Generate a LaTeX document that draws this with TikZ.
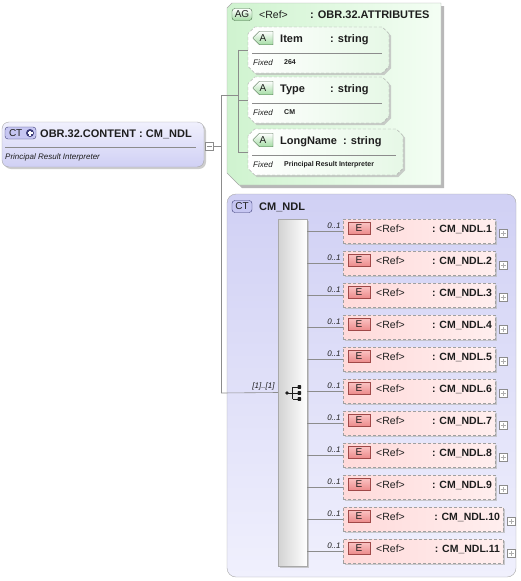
\documentclass[tikz,border=0pt]{standalone}
\usepackage{fontspec}
\setmainfont{Liberation Sans}
\usetikzlibrary{shapes.misc,shadows}

\begin{document}
\begin{tikzpicture}[x=1pt,y=-1pt,
  conn/.style={draw=linegray,line width=0.6pt},
  divider/.style={draw=linegray,line width=0.5pt},
  shad/.style={drop shadow={shadow xshift=2pt,shadow yshift=-2pt,fill=shadowgray,opacity=0.7}},
  ctbox/.style={draw=boxgray,rounded corners=7pt,top color=ctlight,bottom color=ctfill,shad},
  attrbox/.style={chamfered rectangle,chamfered rectangle xsep=4pt,draw=dashgray,dash pattern=on 3pt off 2pt,left color=white,right color=attrfill,shad},
  elem/.style={rectangle,draw=dashgray,dash pattern=on 3pt off 2pt,left color=epink,right color=epink!45!white,minimum height=24,shad},
  seqbox/.style={rectangle,draw=boxgray,left color=seqdark,right color=white,shad},
  expbox/.style={rectangle,draw=linegray,fill=white,minimum size=8,inner sep=0pt,line width=0.4pt},
  minus/.style={expbox,path picture={\draw[linegray,line width=0.5pt] ([xshift=-2.5pt]path picture bounding box.center) -- ([xshift=2.5pt]path picture bounding box.center);}},
  plus/.style={expbox,path picture={\draw[linegray!70,line width=0.5pt] ([xshift=-2.5pt]path picture bounding box.center) -- ([xshift=2.5pt]path picture bounding box.center) ([yshift=-2.5pt]path picture bounding box.center) -- ([yshift=2.5pt]path picture bounding box.center);}},
  tag/.style={inner sep=0pt,minimum height=12,font=\fontsize{10}{11}\selectfont,text=tagtext},
  cttag/.style={tag,rectangle,rounded corners=3pt,draw=ctdark,fill=cttagfill,minimum width=20},
  agtag/.style={tag,rectangle,rounded corners=3pt,draw=agdark,top color=white,bottom color=agtagfill,minimum width=20},
  atag/.style={tag,chamfered rectangle,chamfered rectangle corners={north west,south west},chamfered rectangle xsep=3pt,draw=agdark,top color=white,bottom color=agtagfill,minimum width=20},
  etag/.style={tag,rectangle,draw=edark,top color=etagtop,bottom color=etagfill,minimum width=22},
  namefont/.style={font=\fontsize{11}{13}\selectfont\bfseries,text=tagtext,inner sep=0pt},
  reffont/.style={font=\fontsize{10.5}{12}\selectfont,text=tagtext,inner sep=0pt},
  smallit/.style={font=\fontsize{8}{9}\selectfont\itshape,text=tagtext,inner sep=0pt},
  valfont/.style={font=\fontsize{7}{8}\selectfont\bfseries,text=tagtext,inner sep=0pt}]
\definecolor{linegray}{HTML}{8C8C8C}
\definecolor{boxgray}{HTML}{A8A8A8}
\definecolor{dashgray}{HTML}{A0A0A0}
\definecolor{shadowgray}{HTML}{B8B8B8}
\definecolor{tagtext}{HTML}{1E1E1E}
\definecolor{ctfill}{HTML}{D0D0F4}
\definecolor{ctlight}{HTML}{F0F0FD}
\definecolor{ctdark}{HTML}{3C3C78}
\definecolor{cttagfill}{HTML}{C6C6F2}
\definecolor{agleft}{HTML}{CFF3CF}
\definecolor{agright}{HTML}{F4FEF4}
\definecolor{agdark}{HTML}{4E6E4E}
\definecolor{agtagfill}{HTML}{A4DCA4}
\definecolor{attrfill}{HTML}{E6F8E6}
\definecolor{epink}{HTML}{FFDADA}
\definecolor{edark}{HTML}{A04848}
\definecolor{etagtop}{HTML}{FBC4C4}
\definecolor{etagfill}{HTML}{EC8C8C}
\definecolor{seqdark}{HTML}{D2D2D2}
\useasboundingbox (0,0) rectangle (521,581);

% left complex type
\node[ctbox,minimum width=202,minimum height=45] (content) at (103,144.5) {};
\node[cttag,minimum width=31,text width=27,align=left] (ctbadge) at (20.5,133) {\hspace{2pt}CT};
\node[circle,fill=ctdark,inner sep=0pt,minimum size=8,
  path picture={\draw[white,line width=1.2pt] ([xshift=-2.5pt]path picture bounding box.center) -- ([xshift=2.5pt]path picture bounding box.center) ([yshift=-2.5pt]path picture bounding box.center) -- ([yshift=2.5pt]path picture bounding box.center);}] (ctplus) at (30,133) {};
\node[namefont,anchor=base west] (ctname) at (40,137) {OBR.32.CONTENT : CM\_NDL};
\draw[divider] (5,147) -- (196,147);
\node[smallit,anchor=base west] (ctdoc) at (5,159) {Principal Result Interpreter};
\node[minus] (cminus) at (209,146) {};

% trunk connectors
\coordinate (trunk) at (221,146);
\coordinate (agjoin) at (221,95);
\coordinate (seqjoin) at (221,393);
\coordinate (abustop) at (238,49.5);
\coordinate (abusbot) at (238,152);
\draw[conn] (cminus.east) -- (trunk);
\draw[conn] (agjoin) -- (seqjoin);

% attribute group
\fill[shadowgray] (230,11) -- (235,6) -- (444,6) -- (444,188) -- (242,188) -- (230,176) -- cycle;
\shade[left color=agleft,right color=agright,draw=boxgray] (227,8) -- (232,3) -- (441,3) -- (441,185) -- (239,185) -- (227,173) -- cycle;
\node[agtag] (agbadge) at (242,14.5) {AG};
\node[reffont,anchor=base west] (agref) at (259,18.5) {<Ref>};
\node[namefont,anchor=base west] (agtype) at (310,18.5) {: OBR.32.ATTRIBUTES};
\draw[conn] (agjoin) -- (agjoin -| abustop);
\draw[conn] (abustop) -- (abusbot);

\foreach \a/\nm/\val/\top/\w/\sx in {1/Item/264/27/141/330,2/Type/CM/77/141/330,3/LongName/Principal Result Interpreter/129/155/343}
{
  \node[attrbox,minimum width=\w,minimum height=46] (attr\a) at ({248+\w/2},{\top+23}) {};
  \draw[conn] (attr\a.west -| abustop) -- (attr\a.west);
  \node[atag] (abadge\a) at (263,{\top+11}) {A};
  \node[namefont,anchor=base west] (aname\a) at (280,{\top+15}) {\nm};
  \node[namefont,anchor=base west] (atype\a) at (\sx,{\top+15}) {: string};
  \draw[divider] (252,{\top+26}) -- ({248+\w-7},{\top+26});
  \node[smallit,anchor=base west] (afix\a) at (253,{\top+38}) {Fixed};
  \node[valfont,anchor=base west] (aval\a) at (284,{\top+37}) {\val};
}

% complex type content
\shade[top color=ctfill,bottom color=ctlight,draw=boxgray,rounded corners=9pt] (227,194) rectangle (516,577);
\node[cttag] (cmbadge) at (242,206.5) {CT};
\node[namefont,anchor=base west] (cmname) at (259,210) {CM\_NDL};

% sequence
\node[seqbox,minimum width=29,minimum height=347,inner sep=0pt] (seq) at (292.5,392.5) {};
\draw[conn] (seqjoin) -- (seq.west);
\node[smallit,anchor=south east] (seqcard) at ([xshift=-3pt,yshift=2pt]seq.west) {[1]..[1]};
\draw[tagtext,line width=0.7pt] (287,393) -- (292.5,393) (292.5,387) -- (292.5,399)
  (292.5,387) -- (299,387) (292.5,393) -- (299,393) (292.5,399) -- (299,399);
\fill[tagtext] (287,393) circle (1.8);
\foreach \dy in {387,393,399}
  \fill[tagtext,rounded corners=0.6pt] (297.5,\dy-1.8) rectangle (301.2,\dy+1.8);

% elements
\foreach \i/\w in {1/152,2/152,3/152,4/152,5/152,6/152,7/152,8/152,9/152,10/160,11/160}
{
  \node[elem,minimum width=\w] (el\i) at ({343+\w/2},{199+32*\i}) {};
  \draw[conn] (seq.east |- el\i.west) -- (el\i.west);
  \node[smallit,anchor=south east] (ecard\i) at ([xshift=-2pt,yshift=2pt]el\i.west) {0..1};
  \node[etag] (ebadge\i) at (359,{196+32*\i}) {E};
  \node[reffont,anchor=base west] (eref\i) at (376,{200+32*\i}) {<Ref>};
  \node[namefont,font=\fontsize{10.5}{12}\selectfont\bfseries,anchor=base east] (etype\i) at ([xshift=-3pt]el\i.east |- eref\i.base) {: CM\_NDL.\i};
  \node[plus] (eplus\i) at ([xshift=8pt,yshift=-2pt]el\i.east) {};
}
\end{tikzpicture}
\end{document}
